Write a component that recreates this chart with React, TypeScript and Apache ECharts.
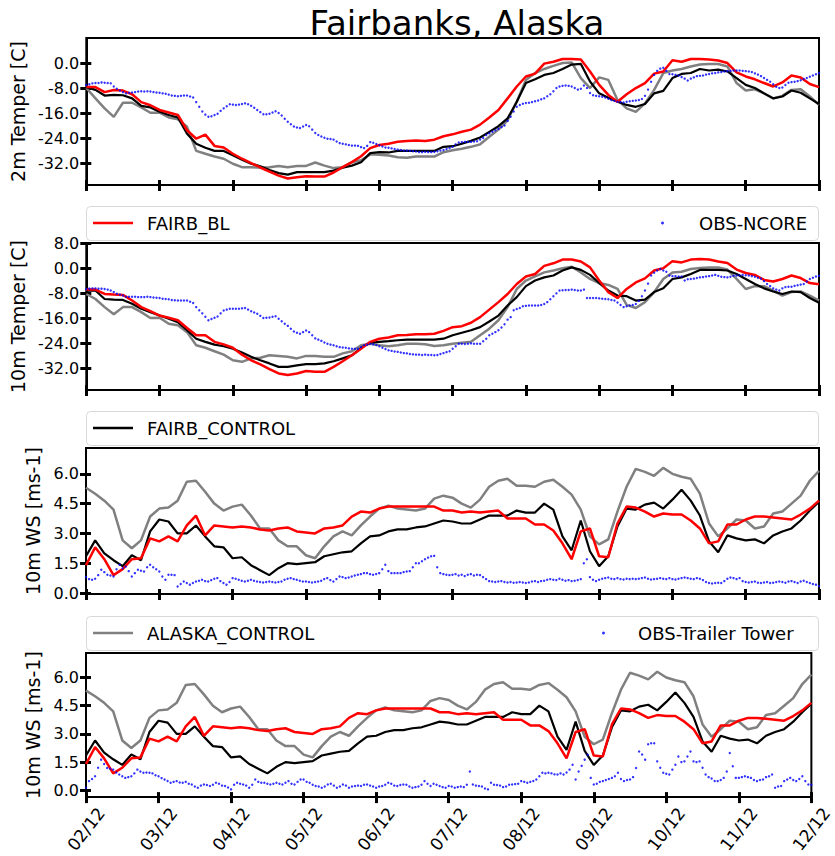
import React, { useEffect, useRef } from "react";
import * as echarts from "echarts";

// ---------- tick labels ----------
const DAY_LABELS = ["02/12", "03/12", "04/12", "05/12", "06/12", "07/12", "08/12", "09/12", "10/12", "11/12", "12/12"];
const T_TICKS_P1 = [-32, -24, -16, -8, 0];
const T_TICKS_P2 = [-32, -24, -16, -8, 0, 8];
const WS_TICKS = [0, 1.5, 3, 4.5, 6];

// model output: every 3 hours, 02/12 00h .. 12/12 00h (81 values)
const MODEL_STEP_H = 3;
// observations: hourly (241 values)
const OBS_STEP_H = 1;

// ---------- 2m temperature ----------
const T2_FAIRB_BL = [
  -7.7, -7.7, -9.3, -8.6, -8.8, -10.0, -12.5, -13.5,
  -15.0, -15.8, -16.6, -21.5, -24.2, -22.9, -26.5, -27.0,
  -29.0, -30.6, -32.0, -33.4, -34.7, -36.0, -36.9, -36.5,
  -36.2, -36.3, -36.3, -35.0, -33.3, -31.7, -29.8, -27.2,
  -26.2, -25.8, -25.2, -24.9, -24.8, -24.9, -24.5, -23.4,
  -22.8, -22.0, -21.3, -19.7, -17.4, -15.0, -11.3, -7.5,
  -4.3, -3.4, -0.2, 0.4, 1.3, 1.3, 1.1, -2.7,
  -7.0, -10.2, -12.4, -10.0, -8.0, -6.4, -3.4, -2.7,
  0.9, 0.4, 1.3, 1.3, 1.1, 0.8, 0.0, -3.0,
  -4.3, -5.2, -6.4, -7.5, -6.2, -4.0, -4.6, -6.7,
  -7.7,
];
const T2_FAIRB_CONTROL = [
  -7.7, -8.6, -10.4, -10.2, -10.3, -11.3, -13.7, -14.2,
  -15.6, -16.6, -17.4, -22.6, -25.8, -27.1, -28.1, -28.1,
  -29.5, -30.9, -32.2, -33.0, -34.2, -35.2, -35.7, -34.9,
  -34.9, -34.9, -34.9, -34.4, -33.5, -32.8, -31.7, -28.8,
  -28.5, -28.6, -28.1, -28.1, -28.1, -28.1, -28.1, -26.8,
  -26.6, -25.8, -24.9, -23.8, -22.0, -20.2, -17.7, -12.4,
  -6.4, -5.2, -3.8, -3.2, -1.9, -0.5, -0.3, -5.9,
  -9.7, -11.1, -12.4, -13.4, -14.0, -13.1, -9.7, -8.9,
  -4.8, -3.5, -3.2, -1.9, -2.4, -2.1, -2.7, -4.8,
  -7.0, -8.0, -9.7, -11.3, -10.7, -8.8, -9.5, -11.3,
  -13.1,
];
const T2_ALASKA_CONTROL = [
  -8.0, -11.3, -14.5, -17.2, -12.7, -12.7, -14.2, -15.9,
  -15.9, -17.4, -18.0, -20.4, -28.1, -29.0, -29.9, -30.6,
  -32.2, -33.3, -33.3, -33.5, -33.3, -32.9, -33.3, -32.9,
  -32.9, -31.8, -32.8, -33.6, -33.3, -31.7, -31.1, -29.2,
  -29.3, -29.6, -30.1, -30.3, -29.9, -29.9, -29.9, -28.5,
  -27.9, -27.4, -26.8, -26.0, -23.6, -21.3, -18.3, -12.4,
  -5.4, -3.2, -1.9, -0.9, 0.0, 0.2, -4.8, -8.0,
  -4.6, -5.4, -11.8, -14.5, -15.6, -12.9, -8.6, -3.2,
  -2.4, -1.9, -1.1, -0.5, -0.3, -0.3, -1.1, -6.4,
  -8.8, -8.4, -9.7, -11.3, -10.5, -8.6, -8.4, -10.7,
  -13.4,
];
const T2_OBS_NCORE = [
  -7.0, -6.8, -6.5, -6.4, -6.4, -6.2, -6.3, -6.4, -6.5, -7.5, -8.2, -8.8, -9.3, -9.7, -9.5, -9.4, -9.3, -9.1, -9.0, -9.1, -9.0, -9.1, -9.3, -9.4,
  -9.5, -9.7, -9.8, -10.1, -10.4, -10.5, -10.6, -10.5, -10.4, -10.4, -10.7, -11.0, -12.5, -14.0, -15.5, -16.5, -17.2, -17.0, -16.6, -16.2, -15.3, -14.5, -13.8, -13.2,
  -13.3, -13.4, -13.3, -13.1, -12.9, -13.2, -13.7, -14.3, -15.0, -15.7, -16.4, -16.4, -16.2, -15.8, -15.4, -16.0, -16.8, -17.8, -18.8, -19.6, -20.3, -20.6, -20.8, -20.3,
  -19.8, -20.2, -21.3, -22.4, -23.0, -23.5, -23.9, -24.2, -24.3, -24.5, -25.1, -25.6, -25.8, -26.0, -26.2, -26.4, -26.4, -26.5, -26.9, -27.2, -26.5, -25.3, -25.5, -25.9,
  -26.3, -26.7, -27.0, -27.1, -27.3, -27.5, -27.7, -27.8, -28.0, -28.0, -28.1, -28.2, -28.3, -28.5, -28.5, -28.4, -28.5, -28.5, -28.4, -28.2, -28.0, -27.8, -27.5, -27.2,
  -26.8, -26.0, -25.4, -25.3, -25.2, -25.2, -25.2, -25.1, -25.0, -24.5, -24.0, -23.0, -22.5, -22.0, -21.5, -21.0, -20.5, -20.0, -18.5, -17.2, -15.5, -14.0, -13.4, -13.0,
  -12.8, -12.7, -12.5, -12.2, -12.0, -11.6, -11.3, -10.6, -10.0, -9.0, -8.0, -7.5, -7.3, -7.2, -7.3, -7.5, -8.0, -8.5, -8.2, -7.2, -8.0, -9.6, -10.3, -10.5,
  -10.6, -10.8, -11.0, -11.4, -11.8, -12.1, -12.4, -12.5, -12.6, -12.4, -12.2, -12.1, -12.0, -11.8, -11.5, -10.5, -8.5, -6.0, -3.8, -2.5, -1.8, -1.5, -2.5, -3.5,
  -3.6, -3.8, -4.0, -4.5, -5.0, -5.6, -5.0, -4.6, -4.2, -4.1, -4.0, -3.7, -3.5, -3.3, -3.2, -3.0, -2.9, -2.7, -2.6, -2.5, -2.4, -2.4, -2.4, -2.5,
  -2.6, -2.7, -2.9, -3.3, -3.7, -4.2, -4.8, -5.4, -6.0, -6.8, -7.6, -8.0, -7.8, -7.0, -6.3, -6.1, -6.0, -5.8, -5.5, -5.1, -4.8, -4.4, -4.0, -3.6,
  -3.2,
];

// ---------- 10m temperature ----------
const T10_FAIRB_BL = [
  -6.9, -6.9, -8.3, -8.5, -8.6, -10.4, -12.5, -13.8,
  -15.2, -15.9, -16.7, -19.2, -21.5, -21.5, -23.6, -24.4,
  -25.5, -27.7, -29.5, -30.8, -32.3, -33.7, -34.2, -33.7,
  -32.9, -33.2, -33.2, -31.6, -29.8, -27.9, -25.8, -23.6,
  -22.6, -22.2, -21.5, -21.4, -21.2, -21.2, -21.0, -20.1,
  -18.9, -18.6, -17.5, -15.7, -13.3, -10.9, -8.3, -5.1,
  -2.7, -1.9, 0.7, 1.5, 2.7, 2.7, 2.1, 0.2,
  -4.0, -7.7, -9.6, -6.7, -4.6, -3.3, -0.8, -0.1,
  2.2, 1.8, 2.7, 2.9, 2.7, 2.1, 1.6, -0.5,
  -1.6, -2.2, -3.8, -4.3, -3.5, -2.4, -3.2, -4.8,
  -5.2,
];
const T10_FAIRB_CONTROL = [
  -7.2, -7.2, -9.9, -10.1, -10.2, -11.4, -13.0, -14.1,
  -15.2, -16.2, -17.3, -19.9, -22.6, -23.6, -24.5, -25.0,
  -25.8, -27.0, -28.4, -29.5, -30.5, -31.6, -31.6, -31.1,
  -30.7, -30.7, -30.5, -29.8, -28.9, -27.9, -25.5, -23.9,
  -23.6, -23.4, -23.1, -22.9, -22.9, -22.9, -22.9, -22.6,
  -21.5, -20.7, -19.9, -18.9, -17.1, -15.2, -12.0, -9.3,
  -5.8, -4.0, -3.0, -2.4, -0.8, 0.2, -0.6, -2.2,
  -4.8, -7.2, -8.8, -9.0, -10.4, -10.1, -7.7, -6.5,
  -3.5, -3.0, -1.9, -0.6, -0.6, -0.6, -0.8, -1.9,
  -3.5, -5.1, -6.5, -7.5, -8.3, -7.5, -7.7, -9.6,
  -11.1,
];
const T10_ALASKA_CONTROL = [
  -8.3, -9.9, -12.5, -14.8, -12.5, -12.5, -14.1, -16.0,
  -15.9, -17.8, -18.3, -20.5, -24.7, -25.5, -26.6, -27.7,
  -29.5, -30.0, -28.9, -28.7, -27.9, -28.1, -28.4, -28.9,
  -28.1, -28.1, -28.4, -28.4, -27.3, -26.6, -24.7, -24.2,
  -24.7, -25.0, -24.7, -24.2, -24.2, -24.4, -24.9, -24.7,
  -24.2, -23.9, -23.6, -21.5, -19.4, -16.7, -12.5, -6.7,
  -4.0, -2.7, -1.4, -0.8, -0.1, 0.4, -1.4, -3.5,
  -4.8, -5.4, -6.7, -11.8, -12.8, -10.9, -7.7, -3.5,
  -1.4, -1.2, -0.3, 0.0, 0.2, 0.2, -0.5, -3.5,
  -6.7, -5.8, -5.8, -7.2, -8.8, -7.7, -7.5, -8.8,
  -10.4,
];
const T10_OBS_NCORE = [
  -6.7, -6.6, -6.5, -6.5, -6.6, -6.6, -6.7, -6.9, -7.2, -7.7, -8.2, -8.5, -8.8, -9.2, -9.2, -9.2, -9.2, -9.3, -9.3, -9.3, -9.2, -9.3, -9.4, -9.5,
  -9.6, -9.8, -9.9, -10.0, -10.2, -10.3, -10.4, -10.4, -10.4, -10.4, -10.8, -11.2, -12.5, -13.5, -14.5, -15.6, -16.7, -16.3, -15.9, -15.5, -14.5, -13.6, -13.3, -13.0,
  -13.0, -13.0, -13.0, -12.9, -12.8, -13.3, -13.8, -14.2, -14.6, -15.3, -16.0, -15.9, -15.8, -15.6, -15.4, -16.2, -17.0, -17.8, -18.5, -19.4, -20.3, -20.7, -21.0, -20.5,
  -20.0, -20.5, -21.5, -22.5, -22.9, -23.3, -23.8, -24.2, -24.5, -24.7, -25.0, -25.3, -25.4, -25.5, -25.7, -25.8, -25.8, -25.8, -25.3, -24.7, -24.5, -24.2, -24.4, -24.6,
  -25.0, -25.5, -25.9, -26.3, -26.5, -26.7, -26.8, -27.0, -27.2, -27.3, -27.5, -27.6, -27.7, -27.7, -27.8, -27.7, -27.8, -27.8, -27.9, -27.8, -27.5, -27.2, -26.9, -26.6,
  -25.8, -25.0, -24.2, -24.2, -24.3, -24.2, -24.1, -24.2, -24.2, -24.2, -23.4, -22.6, -21.5, -21.0, -20.5, -19.9, -19.0, -18.0, -16.5, -15.7, -13.5, -13.1, -12.8, -12.2,
  -12.1, -12.0, -12.0, -12.0, -12.0, -11.8, -11.5, -10.9, -10.0, -9.0, -8.1, -7.2, -7.1, -7.0, -7.0, -6.9, -7.0, -7.2, -7.2, -6.9, -9.6, -9.6, -9.6, -9.6,
  -9.7, -9.8, -9.9, -10.0, -10.2, -10.4, -11.0, -11.8, -12.5, -12.2, -12.0, -11.8, -11.5, -10.5, -9.0, -7.2, -5.0, -2.4, -1.5, -0.8, -0.3, -0.8, -1.2, -2.4,
  -2.6, -2.6, -2.7, -2.7, -4.0, -3.6, -3.5, -3.4, -3.2, -3.0, -2.9, -2.7, -2.6, -2.4, -2.2, -2.5, -2.8, -2.9, -3.0, -2.8, -2.5, -2.4, -2.3, -2.2,
  -2.3, -2.4, -2.6, -2.8, -3.1, -3.4, -4.2, -5.1, -5.8, -6.5, -6.9, -7.2, -6.5, -6.1, -6.0, -6.0, -5.7, -5.5, -5.3, -5.1, -4.3, -3.5, -3.1, -2.7,
  -2.5,
];

// ---------- 10m wind speed (same model output in both wind panels) ----------
const WS_FAIRB_BL = [
  1.4, 2.3, 1.7, 0.9, 1.2, 1.7, 1.75, 2.75,
  2.6, 2.85, 2.6, 3.4, 3.9, 2.9, 3.4, 3.35,
  3.3, 3.35, 3.3, 3.2, 3.15, 3.25, 3.3, 3.1,
  3.05, 3.0, 3.25, 3.3, 3.4, 3.85, 4.1, 4.05,
  4.25, 4.35, 4.35, 4.35, 4.35, 4.35, 4.35, 4.15,
  4.15, 4.05, 4.1, 4.05, 4.1, 4.15, 3.75, 3.75,
  3.75, 3.45, 3.45, 3.15, 2.5, 1.7, 3.1, 3.25,
  1.85, 1.8, 3.5, 4.35, 4.3, 4.1, 3.85, 4.0,
  3.95, 3.95, 3.65, 3.25, 2.5, 2.6, 3.45, 3.45,
  3.7, 3.85, 3.85, 3.8, 3.75, 3.7, 3.95, 4.25,
  4.65,
];
const WS_FAIRB_CONTROL = [
  1.85, 2.65, 2.0, 1.65, 1.35, 1.9, 1.65, 3.1,
  3.7, 3.6, 3.0, 3.0, 3.4, 2.85, 2.35, 2.3,
  1.75, 1.8, 1.4, 1.15, 0.9, 1.25, 1.5, 1.45,
  1.5, 1.55, 1.85, 1.95, 2.05, 2.1, 2.5, 2.85,
  2.9, 3.1, 3.2, 3.2, 3.3, 3.35, 3.5, 3.65,
  3.6, 3.5, 3.5, 3.7, 3.9, 3.9, 3.9, 4.15,
  4.05, 4.05, 4.5, 4.2, 2.85, 2.15, 3.65, 2.1,
  1.35, 1.85, 3.35, 4.25, 4.2, 4.45, 4.55, 4.25,
  4.7, 5.2, 4.65, 3.9, 2.6, 2.05, 2.9, 2.75,
  2.65, 2.7, 2.5, 2.9, 3.1, 3.25, 3.65, 4.15,
  4.6,
];
const WS_ALASKA_CONTROL = [
  5.3, 5.0, 4.65, 4.2, 2.65, 2.25, 2.65, 3.85,
  4.25, 4.3, 4.65, 5.6, 5.65, 5.1, 4.5, 4.15,
  4.35, 4.45, 3.9, 3.25, 3.25, 2.65, 2.35, 2.35,
  1.9, 1.75, 2.35, 2.85, 3.1, 2.9, 3.4, 3.85,
  4.25, 4.4, 4.25, 4.2, 4.15, 4.25, 4.75, 4.9,
  4.8, 4.5, 4.3, 4.7, 5.35, 5.65, 5.75, 5.4,
  5.4, 5.35, 5.6, 5.7, 5.35, 4.95, 4.2, 2.85,
  2.45, 2.7, 4.1, 5.35, 6.25, 6.1, 5.9, 6.3,
  6.0, 5.85, 5.75, 5.0, 3.5, 2.85, 3.25, 3.7,
  3.65, 3.25, 3.35, 4.0, 4.1, 4.5, 4.9, 5.65,
  6.15,
];
const WS_OBS_NCORE = [
  0.8, 0.7, 0.67, 0.72, 0.9, 1.17, 1.05, 0.92, 0.88, 0.83, 1.2, 1.42, 1.25, 1.33, 1.1, 0.83, 1.0, 1.17, 1.12, 1.08, 1.3, 1.42, 1.3, 1.2,
  1.08, 0.83, 0.67, 0.92, 0.92, 0.9, 0.33, 0.45, 0.58, 0.5, 0.42, 0.5, 0.58, 0.62, 0.67, 0.6, 0.58, 0.65, 0.72, 0.75, 0.6, 0.5, 0.42, 0.55,
  0.75, 0.72, 0.67, 0.62, 0.58, 0.62, 0.67, 0.62, 0.58, 0.55, 0.53, 0.55, 0.58, 0.55, 0.53, 0.55, 0.58, 0.67, 0.72, 0.75, 0.7, 0.67, 0.62, 0.58,
  0.58, 0.55, 0.53, 0.55, 0.58, 0.62, 0.7, 0.75, 0.65, 0.58, 0.7, 0.83, 0.8, 0.75, 0.78, 0.83, 0.88, 0.92, 0.95, 1.0, 1.0, 0.95, 0.92, 0.96,
  1.0, 1.2, 1.42, 1.1, 1.0, 1.0, 1.0, 1.0, 1.05, 1.08, 1.1, 1.3, 1.5, 1.5, 1.6, 1.7, 1.78, 1.85, 1.87, 1.3, 1.0, 0.95, 0.92, 0.9,
  0.92, 0.95, 0.88, 0.92, 0.85, 0.92, 0.95, 0.88, 0.92, 0.9, 0.8, 0.7, 0.6, 0.58, 0.55, 0.58, 0.6, 0.55, 0.53, 0.55, 0.52, 0.53, 0.55, 0.53,
  0.5, 0.53, 0.58, 0.6, 0.55, 0.6, 0.62, 0.67, 0.7, 0.67, 0.65, 0.72, 0.67, 0.62, 0.65, 0.6, 0.62, 0.65, 0.7, 1.5, 1.7, 0.8, 0.67, 0.6,
  0.67, 0.72, 0.75, 0.78, 0.72, 0.7, 0.75, 0.7, 0.68, 0.72, 0.7, 0.72, 0.7, 0.72, 0.75, 0.78, 0.72, 0.68, 0.7, 0.72, 0.75, 0.72, 0.7, 0.75,
  0.7, 0.68, 0.72, 0.75, 0.78, 0.75, 0.72, 0.7, 0.75, 0.72, 0.65, 0.55, 0.5, 0.48, 0.5, 0.52, 0.5, 0.6, 0.72, 0.78, 0.75, 0.7, 0.75, 0.6,
  0.55, 0.53, 0.55, 0.58, 0.52, 0.5, 0.53, 0.55, 0.5, 0.52, 0.55, 0.58, 0.55, 0.52, 0.58, 0.6, 0.55, 0.5, 0.58, 0.62, 0.55, 0.5, 0.45, 0.42,
  0.35,
];
const WS_OBS_TRAILER = [
  0.14, 0.49, 0.6, 0.75, 1.2, 1.63, 1.4, 1.19, 1.15, 1.1, 0.95, 0.84, 0.75, 0.66, 0.7, 0.75, 0.9, 1.1, 1.0, 0.93, 0.95, 0.93, 0.9, 0.8,
  0.75, 0.65, 0.58, 0.5, 0.4, 0.45, 0.49, 0.42, 0.4, 0.45, 0.35, 0.31, 0.2, 0.14, 0.25, 0.31, 0.28, 0.23, 0.3, 0.4, 0.35, 0.25, 0.23, 0.15,
  0.05, 0.3, 0.4, 0.35, 0.31, 0.25, 0.14, 0.3, 0.58, 0.45, 0.4, 0.4, 0.35, 0.31, 0.35, 0.4, 0.35, 0.31, 0.4, 0.49, 0.35, 0.31, 0.45, 0.58,
  0.58, 0.45, 0.4, 0.3, 0.23, 0.2, 0.14, 0.2, 0.31, 0.35, 0.25, 0.14, 0.2, 0.31, 0.25, 0.14, 0.2, 0.23, 0.25, 0.23, 0.3, 0.31, 0.25, 0.2,
  0.14, 0.2, 0.23, 0.3, 0.4, 0.35, 0.25, 0.23, 0.28, 0.31, 0.3, 0.2, 0.14, 0.17, 0.2, 0.3, 0.49, 0.35, 0.23, 0.35, 0.3, 0.23, 0.17, 0.14,
  0.23, 0.2, 0.14, 0.17, 0.2, 0.17, 0.3, 1.0, 0.31, 0.25, 0.23, 0.2, 0.1, 0.05, 0.4, 0.3, 0.28, 0.25, 0.17, 0.2, 0.3, 0.31, 0.33, 0.35,
  0.49, 0.45, 0.4, 0.45, 0.5, 0.58, 0.75, 0.93, 0.9, 0.93, 0.9, 0.85, 0.84, 0.9, 0.84, 0.95, 1.1, 1.36, 0.58, 1.0, 1.3, 1.63, 1.89, 0.66,
  0.31, 0.35, 0.45, 0.49, 0.55, 0.6, 0.66, 0.75, 0.93, 0.6, 0.49, 0.55, 0.58, 0.7, 1.19, 2.06, 1.9, 1.63, 2.45, 2.5, 2.5, 1.54, 1.2, 0.93,
  0.88, 0.84, 1.1, 1.36, 1.8, 1.5, 1.54, 1.8, 2.06, 1.54, 1.5, 1.54, 1.2, 0.84, 0.7, 0.63, 0.5, 0.49, 0.55, 0.66, 1.0, 1.98, 1.28, 0.66,
  0.66, 0.7, 0.75, 0.7, 0.66, 0.55, 0.49, 0.55, 0.58, 0.7, 0.75, 0.84, 0.14, 0.2, 0.23, 0.49, 0.58, 0.66, 0.55, 0.49, 0.6, 0.75, 0.49, 0.31,
  0.3,
];

const RED = "#ff0000";
const BLACK = "#000000";
const GRAY = "#808080";
const BLUE = "#0000ff";
const FONT = "DejaVu Sans";

export default function App() {
  const ref = useRef<HTMLDivElement>(null);

  useEffect(() => {
    document.body.style.margin = "0";
    const chart = echarts.init(ref.current as HTMLDivElement, null, { renderer: "svg" });

    const panels = [
      { top: 38, height: 147, min: -39, max: 8, ticks: T_TICKS_P1, name: "2m Temper [C]", gap: 56,
        bl: T2_FAIRB_BL, ctl: T2_FAIRB_CONTROL, ak: T2_ALASKA_CONTROL, obs: T2_OBS_NCORE, obsName: "OBS-NCORE" },
      { top: 243, height: 147, min: -39, max: 8, ticks: T_TICKS_P2, name: "10m Temper [C]", gap: 56,
        bl: T10_FAIRB_BL, ctl: T10_FAIRB_CONTROL, ak: T10_ALASKA_CONTROL, obs: T10_OBS_NCORE, obsName: "OBS-NCORE" },
      { top: 448, height: 146, min: -0.05, max: 7.3, ticks: WS_TICKS, name: "10m WS [ms-1]", gap: 40,
        bl: WS_FAIRB_BL, ctl: WS_FAIRB_CONTROL, ak: WS_ALASKA_CONTROL, obs: WS_OBS_NCORE, obsName: "OBS-NCORE" },
      { top: 653, height: 147, min: -0.36, max: 7.3, ticks: WS_TICKS, name: "10m WS [ms-1]", gap: 40,
        bl: WS_FAIRB_BL, ctl: WS_FAIRB_CONTROL, ak: WS_ALASKA_CONTROL, obs: WS_OBS_TRAILER, obsName: "OBS-Trailer Tower" },
    ];

    const grid: any[] = [];
    const xAxis: any[] = [];
    const yAxis: any[] = [];
    const series: any[] = [];

    const modelPairs = (arr: number[]) => arr.map((v, i) => [i * MODEL_STEP_H, v]);
    const obsPairs = (arr: number[]) => arr.map((v, i) => [i * OBS_STEP_H, v]);

    panels.forEach((p, k) => {
      grid.push({
        left: 86, right: 16, top: p.top, height: p.height,
        show: true, borderColor: BLACK, borderWidth: 2, backgroundColor: "transparent",
      });
      const xBase = {
        gridIndex: k, type: "value", min: 0, max: 240, interval: 24, position: "bottom",
        splitLine: { show: false },
      };
      xAxis.push({
        ...xBase,
        axisLine: { show: true, onZero: false, lineStyle: { color: BLACK, width: 2 } },
        axisTick: { show: true, length: 6, lineStyle: { color: BLACK, width: 3 } },
        axisLabel: {
          show: k === 3, rotate: 52, align: "center", verticalAlign: "middle", margin: 32,
          fontSize: 17, color: BLACK, fontFamily: FONT,
          formatter: (v: number) => DAY_LABELS[Math.round(v / 24)] ?? "",
        },
      });
      xAxis.push({
        ...xBase,
        axisLine: { show: false, onZero: false },
        axisTick: { show: true, inside: true, length: 5, lineStyle: { color: BLACK, width: 3 } },
        axisLabel: { show: false },
      });
      const yBase = {
        gridIndex: k, type: "value", min: p.min, max: p.max, position: "left",
        splitLine: { show: false },
      };
      yAxis.push({
        ...yBase,
        name: p.name, nameLocation: "middle", nameGap: p.gap, nameRotate: 90,
        nameTextStyle: { fontSize: 19, color: BLACK, fontFamily: FONT },
        axisLine: { show: true, onZero: false, lineStyle: { color: BLACK, width: 2 } },
        axisTick: { show: true, length: 6, customValues: p.ticks, lineStyle: { color: BLACK, width: 3 } },
        axisLabel: {
          show: true, customValues: p.ticks, margin: 7, fontSize: 16, color: BLACK, fontFamily: FONT,
          formatter: (v: number) => v.toFixed(1),
        },
      });
      yAxis.push({
        ...yBase,
        axisLine: { show: false, onZero: false },
        axisTick: { show: true, inside: true, length: 5, customValues: p.ticks, lineStyle: { color: BLACK, width: 3 } },
        axisLabel: { show: false },
      });

      const xi = 2 * k;
      const yi = 2 * k;
      series.push({
        type: "line", name: "ALASKA_CONTROL", xAxisIndex: xi, yAxisIndex: yi,
        data: modelPairs(p.ak), showSymbol: false, color: GRAY,
        lineStyle: { color: GRAY, width: 2.5 }, z: 2,
      });
      series.push({
        type: "line", name: "FAIRB_CONTROL", xAxisIndex: xi, yAxisIndex: yi,
        data: modelPairs(p.ctl), showSymbol: false, color: BLACK,
        lineStyle: { color: BLACK, width: 2.2 }, z: 3,
      });
      series.push({
        type: "line", name: "FAIRB_BL", xAxisIndex: xi, yAxisIndex: yi,
        data: modelPairs(p.bl), showSymbol: false, color: RED,
        lineStyle: { color: RED, width: 2.5 }, z: 4,
      });
      series.push({
        type: "scatter", name: p.obsName, xAxisIndex: xi, yAxisIndex: yi,
        data: obsPairs(p.obs), symbol: "circle", symbolSize: 2.4, color: BLUE,
        itemStyle: { color: BLUE }, z: 5,
      });
    });

    const legendBoxes = [206, 411, 616];
    const graphic: any[] = legendBoxes.map((y) => ({
      type: "rect", z: 0,
      shape: { x: 86.5, y: y + 0.5, width: 732, height: 34, r: 4 },
      style: { fill: "#ffffff", stroke: "#d8d8d8", lineWidth: 1 },
    }));

    const legText = { fontSize: 18, color: BLACK, fontFamily: FONT, lineHeight: 22 };
    const lineLegend = (name: string, color: string, top: number) => ({
      show: true, selectedMode: false, orient: "horizontal", left: 93, top, padding: 0,
      itemWidth: 40, itemHeight: 2.5,
      data: [{ name, icon: "rect", itemStyle: { color } }],
      textStyle: { ...legText, padding: [0, 0, 0, 9] },
    });
    const dotLegend = (name: string, left: number, top: number, pad: number) => ({
      show: true, selectedMode: false, orient: "horizontal", left, top, padding: 0,
      itemWidth: 3, itemHeight: 3,
      data: [{ name, icon: "circle", itemStyle: { color: BLUE } }],
      textStyle: { ...legText, padding: [0, 0, 0, pad] },
    });

    chart.setOption({
      animation: false,
      backgroundColor: "#ffffff",
      title: {
        text: "Fairbanks, Alaska", left: 452, top: 1, textAlign: "center",
        textStyle: { fontSize: 34, fontWeight: "normal", color: BLACK, fontFamily: FONT },
      },
      grid, xAxis, yAxis, series, graphic,
      legend: [
        lineLegend("FAIRB_BL", RED, 212),
        dotLegend("OBS-NCORE", 661, 212, 30),
        lineLegend("FAIRB_CONTROL", BLACK, 417),
        lineLegend("ALASKA_CONTROL", GRAY, 622),
        dotLegend("OBS-Trailer Tower", 602, 622, 28),
      ],
    });

    return () => chart.dispose();
  }, []);

  return <div ref={ref} style={{ width: 835, height: 856 }} />;
}
